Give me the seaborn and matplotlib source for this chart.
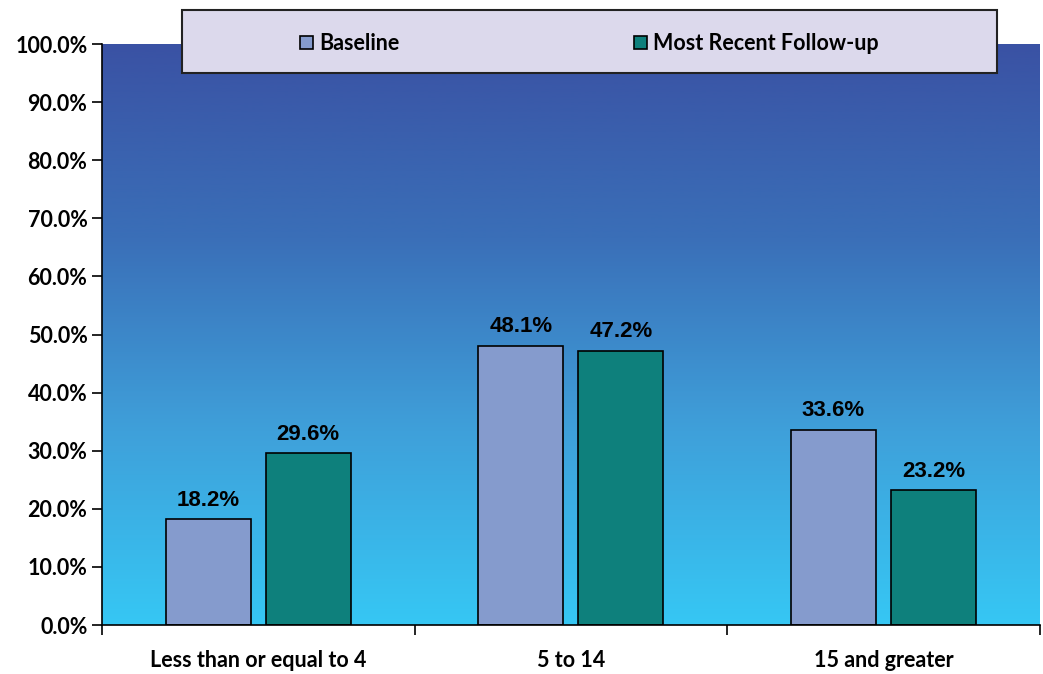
import numpy as np
import pandas as pd
import seaborn as sns
import matplotlib.pyplot as plt
from matplotlib.colors import LinearSegmentedColormap
from matplotlib.patches import Rectangle

# data
categories = ["Less than or equal to 4", "5 to 14", "15 and greater"]
baseline = [18.2, 48.1, 33.6]
follow_up = [29.6, 47.2, 23.2]
series_names = ["Baseline", "Most Recent Follow-up"]

df = pd.DataFrame({
    "category": categories * 2,
    "series": [series_names[0]] * 3 + [series_names[1]] * 3,
    "value": baseline + follow_up,
})

sns.set_style("white")
plt.rcParams["font.family"] = ["Lato", "DejaVu Sans"]
plt.rcParams["text.color"] = "black"
plt.rcParams["xtick.color"] = "black"
plt.rcParams["ytick.color"] = "black"

fig = plt.figure(figsize=(10.43, 6.74), dpi=100)
ax = fig.add_axes([0.0978, 0.0727, 0.899, 0.862])

# gradient background
grad = LinearSegmentedColormap.from_list(
    "bg", ["#36c7f4", "#3fa0da", "#3a6fb8", "#3a52a4"])
ax.imshow(np.linspace(0, 1, 256).reshape(-1, 1), cmap=grad, origin="lower",
          extent=(-0.5, 2.5, 0, 100), aspect="auto", zorder=0)

sns.barplot(data=df, x="category", y="value", hue="series", ax=ax,
            palette=["#859bcd", "#0e807c"], width=0.639, gap=0.15,
            edgecolor="black", linewidth=1.2, saturation=1, zorder=2,
            legend=False)

for cont in ax.containers:
    ax.bar_label(cont, labels=[f"{v:.1f}%" for v in cont.datavalues],
                 padding=6, fontsize=16, fontweight="bold",
                 family="Liberation Sans", color="black")

ax.set_xlim(-0.5, 2.5)
ax.set_ylim(0, 100)
ax.set_yticks(np.arange(0, 101, 10))
ax.set_yticklabels([f"{v:.1f}%" for v in np.arange(0, 101, 10)],
                   fontsize=15.5, fontweight="bold")
ax.set_xticks([-0.5, 0.5, 1.5, 2.5])
ax.set_xticklabels([])
ax.tick_params(axis="both", direction="out", length=7, width=1.2,
               color="black", left=True, bottom=True)
for i, c in enumerate(categories):
    ax.text(i, -4.3, c, ha="center", va="top", fontsize=15.5,
            fontweight="bold", transform=ax.transData)
ax.set_xlabel("")
ax.set_ylabel("")
for s in ["top", "right"]:
    ax.spines[s].set_visible(False)
for s in ["left", "bottom"]:
    ax.spines[s].set_color("black")
    ax.spines[s].set_linewidth(1.2)
ax.spines["left"].set_zorder(3)

# legend box across the top
box = Rectangle((0.1745, 0.8917), 0.7815, 0.0933, transform=fig.transFigure,
                facecolor="#dcd9ec", edgecolor="#222222", linewidth=1.5,
                zorder=5)
fig.add_artist(box)
colors = ["#859bcd", "#0e807c"]
xs = [0.288, 0.608]
for x, name, col in zip(xs, series_names, colors):
    fig.add_artist(Rectangle((x, 0.928), 0.0125, 0.0185,
                             transform=fig.transFigure, facecolor=col,
                             edgecolor="black", linewidth=1.2, zorder=6))
    fig.text(x + 0.018, 0.936, name, fontsize=15.5, fontweight="bold",
             va="center", ha="left", zorder=6)

fig.savefig("out.png", dpi=100)
